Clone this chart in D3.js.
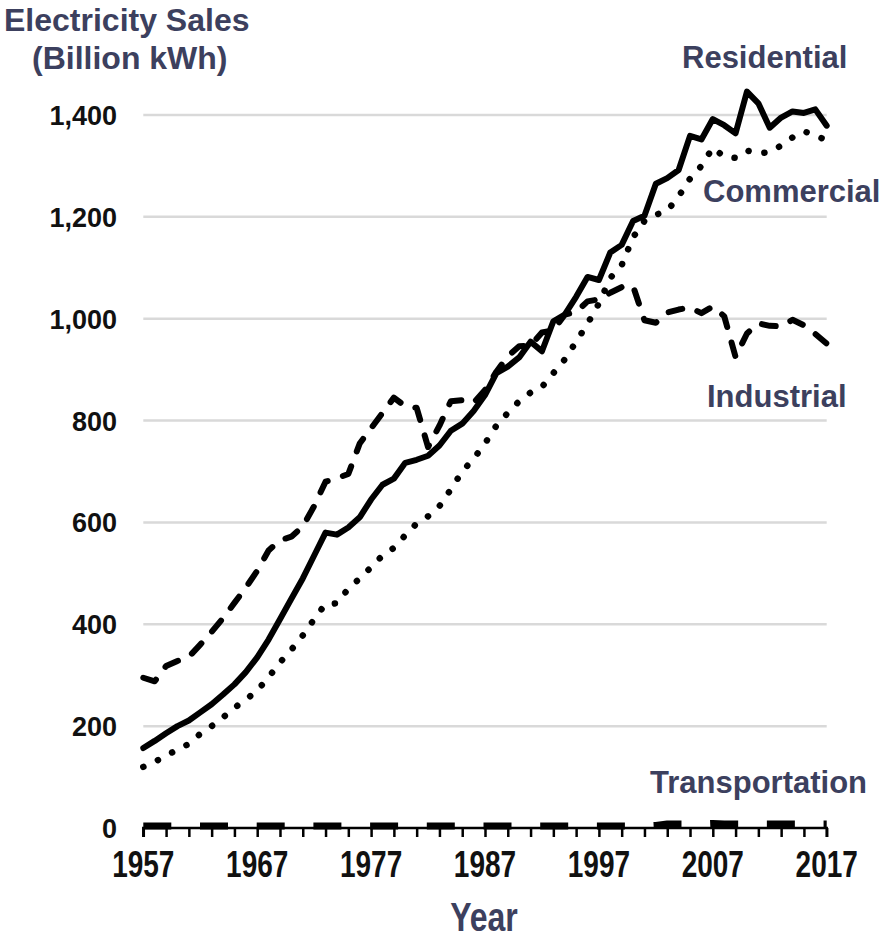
<!DOCTYPE html>
<html><head><meta charset="utf-8">
<script src="https://cdn.jsdelivr.net/npm/d3@7"></script>
<style>
body{margin:0;background:#fff;}
text{font-family:"Liberation Sans", Arial, sans-serif;}
</style>
</head><body>
<svg id="chart" width="894" height="942"></svg>
<script>
const years = [1957,1958,1959,1960,1961,1962,1963,1964,1965,1966,1967,1968,1969,1970,1971,1972,1973,1974,1975,1976,1977,1978,1979,1980,1981,1982,1983,1984,1985,1986,1987,1988,1989,1990,1991,1992,1993,1994,1995,1996,1997,1998,1999,2000,2001,2002,2003,2004,2005,2006,2007,2008,2009,2010,2011,2012,2013,2014,2015,2016,2017];
const residential = [157,171,186,200,211,227,243,262,282,306,335,370,410,450,490,535,580,576,590,610,645,674,686,717,723,731,751,780,794,819,850,893,906,924,955,936,995,1008,1043,1082,1076,1130,1145,1192,1202,1265,1276,1292,1359,1352,1392,1380,1364,1446,1423,1375,1395,1407,1404,1411,1379];
const commercial = [120,130,142,154,165,185,200,217,236,252,270,296,325,350,378,410,440,441,470,490,512,535,550,575,598,612,632,665,700,725,755,790,815,838,855,866,893,920,955,990,1030,1080,1105,1160,1192,1204,1212,1240,1275,1300,1336,1318,1316,1330,1325,1327,1340,1356,1368,1360,1350];
const industrial = [295,288,318,328,336,360,385,412,442,472,505,545,565,572,592,632,680,687,695,755,785,815,845,828,825,748,790,838,840,835,860,896,926,946,947,973,977,1008,1013,1034,1038,1051,1062,1064,997,992,1012,1018,1022,1011,1024,1005,925,971,991,986,985,998,987,970,951];
const transportation = [4,4,4,4,4,4,4,4,4,4,4,4,4,4,4,4,4,4,4,4,4,4,4,4,4,4,4,4,4,4,4,4,4,4,4,4,4,4,4,4,4,4,4,4,4,5,8,8,8,8,9,8,8,8,8,8,8,8,8,8,8];
const yTicks = [0,200,400,600,800,1000,1200,1400];
const yTickLabels = ["0","200","400","600","800","1,000","1,200","1,400"];
const xLabelYears = [1957,1967,1977,1987,1997,2007,2017];
const seriesNames = ["Residential","Commercial","Industrial","Transportation"];

const svg = d3.select("#chart");
svg.append("rect").attr("width",894).attr("height",942).attr("fill","#fff");

const x = d3.scaleLinear().domain([1957,2017]).range([143.3,826.7]);
const y = d3.scaleLinear().domain([0,1400]).range([828,115]);
const labelColor = "#3c405e";

// gridlines
svg.append("g").selectAll("line").data(yTicks.filter(d=>d>0)).join("line")
  .attr("x1",x(1957)).attr("x2",x(2017))
  .attr("y1",d=>y(d)).attr("y2",d=>y(d))
  .attr("stroke","#d9d9d9").attr("stroke-width",2.5);

// y labels
svg.append("g").selectAll("text").data(yTicks).join("text")
  .attr("x",117).attr("y",d=>y(d)+10)
  .attr("text-anchor","end")
  .attr("font-size",27).attr("font-weight","bold").attr("fill","#111")
  .text((d,i)=>yTickLabels[i]);

const mk = vals => years.map((yr,i)=>({year:yr, v:vals[i]}));
const line = d3.line().x(d=>x(d.year)).y(d=>y(d.v));

svg.append("path").datum(mk(industrial)).attr("d",line)
  .attr("fill","none").attr("stroke","#000").attr("stroke-width",6)
  .attr("stroke-linecap","round").attr("stroke-linejoin","round")
  .attr("stroke-dasharray","14,16");

svg.append("path").datum(mk(commercial)).attr("d",line)
  .attr("fill","none").attr("stroke","#000").attr("stroke-width",6.5)
  .attr("stroke-linecap","round").attr("stroke-linejoin","round")
  .attr("stroke-dasharray","0.1,16");

svg.append("path").datum(mk(residential)).attr("d",line)
  .attr("fill","none").attr("stroke","#000").attr("stroke-width",6)
  .attr("stroke-linecap","round").attr("stroke-linejoin","round");

// x axis
const xAxis = d3.axisBottom(x).tickValues(d3.range(1957,2018,2)).tickSize(9).tickFormat("");
const ax = svg.append("g").attr("transform","translate(0,828)").call(xAxis);
ax.select(".domain").attr("stroke","#000").attr("stroke-width",2.5).attr("d",`M${x(1957)},9V0H${x(2017)}V9`);
ax.selectAll(".tick line").attr("stroke","#000").attr("stroke-width",2.5);

svg.append("path").datum(mk(transportation)).attr("d",line)
  .attr("fill","none").attr("stroke","#000").attr("stroke-width",7)
  .attr("stroke-linecap","butt").attr("stroke-linejoin","round")
  .attr("stroke-dasharray","28,28.7");

// x labels (condensed look)
svg.append("g").selectAll("text").data(xLabelYears).join("text")
  .attr("transform",d=>`translate(${x(d)},877) scale(1,1.35)`)
  .attr("text-anchor","middle")
  .attr("font-size",28).attr("font-weight","bold").attr("fill","#111")
  .text(d=>d);

// axis titles
svg.append("text").attr("x",4).attr("y",31).attr("font-size",32).attr("font-weight","bold").attr("fill",labelColor).text("Electricity Sales");
svg.append("text").attr("x",32).attr("y",69).attr("font-size",32).attr("font-weight","bold").attr("fill",labelColor).text("(Billion kWh)");
svg.append("text").attr("transform","translate(484,931) scale(1,1.25)").attr("text-anchor","middle").attr("font-size",32).attr("font-weight","bold").attr("fill",labelColor).text("Year");

// series labels
const labelPos = [[682,68],[703,202],[707,407],[650,793]];
svg.append("g").selectAll("text").data(seriesNames).join("text")
  .attr("x",(d,i)=>labelPos[i][0]).attr("y",(d,i)=>labelPos[i][1])
  .attr("font-size",31).attr("font-weight","bold").attr("fill",labelColor)
  .text(d=>d);
</script>
</body></html>
